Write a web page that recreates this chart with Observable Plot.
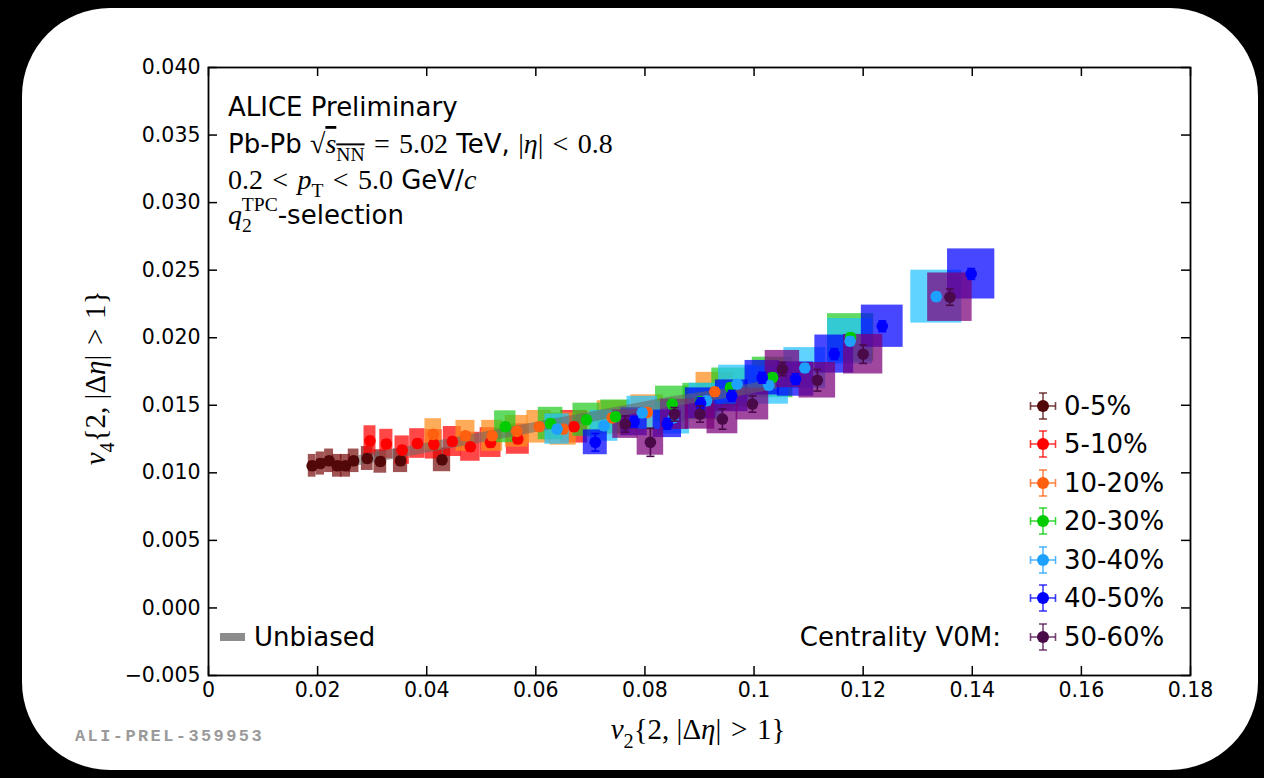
<!DOCTYPE html>
<html>
<head>
<meta charset="utf-8">
<script src="https://cdn.jsdelivr.net/npm/d3@7"></script>
<script src="https://cdn.jsdelivr.net/npm/@observablehq/plot@0.6"></script>
<style>
  html, body { margin: 0; padding: 0; background: #000; width: 1264px; height: 778px; overflow: hidden; }
  #card { position: absolute; left: 22px; top: 8px; width: 1236px; height: 762px; border-radius: 88px; background: #fff; }
  #chart { position: absolute; left: 0; top: 0; }
  text { white-space: pre; }
</style>
</head>
<body>
<div id="card"></div>
<div id="chart"></div>
<script>
// v4{2,|Δη|>1} versus v2{2,|Δη|>1} for q2-selected event classes, per centrality
const centralities = ["0-5%", "5-10%", "10-20%", "20-30%", "30-40%", "40-50%", "50-60%"];

const v2_0005 = [0.0190, 0.0205, 0.0221, 0.0236, 0.0251, 0.0266, 0.0291, 0.0315, 0.0352, 0.0428];
const v4_0005 = [0.01052, 0.01069, 0.01089, 0.01052, 0.01052, 0.01089, 0.01106, 0.01084, 0.01089, 0.01096];
const err_0005 = [0.0003, 0.0003, 0.0003, 0.0003, 0.0003, 0.0003, 0.0003, 0.0003, 0.0003, 0.0003];

const v2_0510 = [0.0296, 0.0326, 0.0355, 0.0383, 0.0413, 0.0447, 0.0480, 0.0517, 0.0567, 0.0670];
const v4_0510 = [0.01237, 0.01213, 0.01168, 0.01217, 0.01211, 0.01232, 0.01193, 0.01224, 0.01250, 0.01341];
const err_0510 = [0.0003, 0.0003, 0.0003, 0.0003, 0.0003, 0.0003, 0.0003, 0.0003, 0.0003, 0.0003];

const v2_1020 = [0.0412, 0.0471, 0.0520, 0.0565, 0.0606, 0.0650, 0.0740, 0.0804, 0.0928];
const v4_1020 = [0.01285, 0.01274, 0.01274, 0.01307, 0.01341, 0.01324, 0.01407, 0.01447, 0.01600];
const err_1020 = [0.0003, 0.0003, 0.0003, 0.0003, 0.0003, 0.0003, 0.0003, 0.0003, 0.0003];

const v2_2030 = [0.0544, 0.0627, 0.0693, 0.0746, 0.0850, 0.0902, 0.0957, 0.1034, 0.1177];
const v4_2030 = [0.01341, 0.01365, 0.01393, 0.01415, 0.01509, 0.01528, 0.01632, 0.01706, 0.02002];
const err_2030 = [0.0003, 0.0003, 0.0003, 0.0003, 0.0003, 0.0003, 0.0003, 0.0003, 0.0003];

const v2_3040 = [0.0639, 0.0725, 0.0795, 0.0852, 0.0913, 0.0969, 0.1027, 0.1093, 0.1176, 0.1334];
const v4_3040 = [0.01324, 0.01348, 0.01444, 0.01407, 0.01533, 0.01656, 0.01648, 0.01776, 0.01974, 0.02304];
const err_3040 = [0.0003, 0.0003, 0.0003, 0.0003, 0.0003, 0.0003, 0.0003, 0.0003, 0.0003, 0.0003];

const v2_4050 = [0.0709, 0.0780, 0.0841, 0.0902, 0.0959, 0.1015, 0.1076, 0.1147, 0.1235, 0.1398];
const v4_4050 = [0.01226, 0.01378, 0.01363, 0.01515, 0.01570, 0.01704, 0.01694, 0.01879, 0.02085, 0.02472];
const err_4050 = [0.00065, 0.0004, 0.0004, 0.0004, 0.0004, 0.0004, 0.0004, 0.0004, 0.0004, 0.0004];

const v2_5060 = [0.0764, 0.0810, 0.0854, 0.0901, 0.0942, 0.0997, 0.1052, 0.1116, 0.1200, 0.1359];
const v4_5060 = [0.01361, 0.01226, 0.01433, 0.01435, 0.01398, 0.01509, 0.01768, 0.01685, 0.01878, 0.02300];
const err_5060 = [0.0006, 0.00104, 0.0005, 0.0006, 0.00075, 0.0006, 0.0005, 0.0008, 0.00068, 0.0006];

// relative systematic uncertainties (boxes) per centrality class
const sysRelV2 = [0.037, 0.037, 0.037, 0.036, 0.035, 0.031, 0.030];
const sysRelV4 = [0.080, 0.090, 0.090, 0.088, 0.085, 0.075, 0.078];

// unbiased (no q2 selection) reference
const v2_unbiased = [0.027, 0.035, 0.047, 0.060, 0.072, 0.085, 0.095, 0.104];
const v4_unbiased = [0.0109, 0.0115, 0.0124, 0.0134, 0.0143, 0.0153, 0.0159, 0.0166];

// axis ticks
const xTicks = [0, 0.02, 0.04, 0.06, 0.08, 0.1, 0.12, 0.14, 0.16, 0.18];
const yTicks = [-0.005, 0, 0.005, 0.010, 0.015, 0.020, 0.025, 0.030, 0.035, 0.040];

const dotColors = ["#520808", "#ff0000", "#ff6010", "#00cc00", "#1ea0ff", "#0000ff", "#4a0a4a"];
const boxColors = ["#7a1010", "#ff0000", "#ff8c1a", "#22cc22", "#22c4ff", "#0000ff", "#7a007a"];

const v2s = [v2_0005, v2_0510, v2_1020, v2_2030, v2_3040, v2_4050, v2_5060];
const v4s = [v4_0005, v4_0510, v4_1020, v4_2030, v4_3040, v4_4050, v4_5060];
const errs = [err_0005, err_0510, err_1020, err_2030, err_3040, err_4050, err_5060];

const series = centralities.map((c, i) =>
  v2s[i].map((v2, j) => ({c, v2, v4: v4s[i][j], err: errs[i][j]}))
);
const unbiased = v2_unbiased.map((v2, j) => ({v2, v4: v4_unbiased[j]}));

// horizontal cap used for the statistical error bars
const capSymbol = {
  draw(ctx, size) {
    const w = Math.sqrt(size / Math.PI);
    ctx.moveTo(-w, 0);
    ctx.lineTo(w, 0);
  }
};

const W = 1264, H = 778;
const mL = 208, mR = 74, mT = 67, mB = 103;
const frameW = W - mL - mR, frameH = H - mT - mB;
const tickLen = 9;

const marks = [];
// systematic boxes
series.forEach((rows, i) => {
  marks.push(Plot.rect(rows, {
    x1: d => d.v2 * (1 - sysRelV2[i]), x2: d => d.v2 * (1 + sysRelV2[i]),
    y1: d => d.v4 * (1 - sysRelV4[i]), y2: d => d.v4 * (1 + sysRelV4[i]),
    fill: boxColors[i], fillOpacity: 0.72
  }));
});
// unbiased band
marks.push(Plot.line(unbiased, {x: "v2", y: "v4", stroke: "#666", strokeOpacity: 0.55, strokeWidth: 10, strokeLinecap: "butt"}));
// statistical errors and points
series.forEach((rows, i) => {
  marks.push(
    Plot.ruleX(rows, {x: "v2", y1: d => d.v4 - d.err, y2: d => d.v4 + d.err, stroke: dotColors[i], strokeWidth: 1.6}),
    Plot.dot(rows, {x: "v2", y: d => d.v4 + d.err, symbol: capSymbol, r: 4, stroke: dotColors[i], strokeWidth: 1.6, fill: "none"}),
    Plot.dot(rows, {x: "v2", y: d => d.v4 - d.err, symbol: capSymbol, r: 4, stroke: dotColors[i], strokeWidth: 1.6, fill: "none"}),
    Plot.dot(rows, {x: "v2", y: "v4", r: 5.8, fill: dotColors[i], stroke: "none"})
  );
});
// inward ticks on all four sides
marks.push(
  Plot.tickX(xTicks, {x: d => d, insetTop: frameH - tickLen, stroke: "black", strokeWidth: 1.5}),
  Plot.tickX(xTicks, {x: d => d, insetBottom: frameH - tickLen, stroke: "black", strokeWidth: 1.5}),
  Plot.tickY(yTicks, {y: d => d, insetRight: frameW - tickLen, stroke: "black", strokeWidth: 1.5}),
  Plot.tickY(yTicks, {y: d => d, insetLeft: frameW - tickLen, stroke: "black", strokeWidth: 1.5}),
  Plot.axisX({ticks: xTicks, tickSize: 0, tickPadding: 7, label: null, fontSize: 20.5,
    tickFormat: d => d === 0 ? "0" : String(+d.toFixed(2))}),
  Plot.axisY({ticks: yTicks, tickSize: 0, tickPadding: 8, label: null, fontSize: 20.5,
    tickFormat: d => (d < 0 ? "\u2212" : "") + Math.abs(d).toFixed(3)}),
  Plot.frame({stroke: "black", strokeWidth: 1.8})
);

const plot = Plot.plot({
  width: W, height: H,
  marginLeft: mL, marginRight: mR, marginTop: mT, marginBottom: mB,
  x: {domain: [0, 0.18]},
  y: {domain: [-0.005, 0.040]},
  style: {background: "none", fontFamily: "DejaVu Sans", color: "black", overflow: "visible"},
  marks
});
document.getElementById("chart").appendChild(plot);

const svg = d3.select(plot);
const SANS = "DejaVu Sans", SERIF = "Liberation Serif";
const RSP = "\u2004"; // spacing around relations in math text

// text with mixed fonts (sans for words, serif for math), sub- and superscripts
function rich(parent, x, y, parts, size, msize, attrs = {}) {
  const t = parent.append("text").attr("x", x).attr("y", y)
    .attr("fill", "black").attr("text-anchor", "start");
  for (const [k, v] of Object.entries(attrs)) t.attr(k, v);
  let cur = 0;
  for (const p of parts) {
    const base = p.f === "sans" ? size : msize;
    const target = p.sub ? base * 0.3 : p.sup ? -base * 0.45 : 0;
    const s = t.append("tspan").text(p.t)
      .attr("font-family", p.f === "sans" ? SANS : SERIF)
      .attr("font-style", p.f === "it" ? "italic" : "normal")
      .attr("font-size", (p.sub || p.sup) ? base * 0.7 : base);
    if (target !== cur) { s.attr("dy", target - cur); cur = target; }
    if (p.dx) s.attr("dx", p.dx);
    if (p.over) s.attr("text-decoration", "overline");
  }
  return t;
}

const fs = 26, ms = 28;
const g = svg.append("g").attr("text-anchor", "start");
rich(g, 228, 116, [{t: "ALICE Preliminary", f: "sans"}], fs, ms);
rich(g, 228, 153, [
  {t: "Pb-Pb ", f: "sans"}, {t: "\u221A", f: "rm"}, {t: "s", f: "it", over: true},
  {t: "NN", f: "rm", sub: true, over: true}, {t: RSP + "=" + RSP + "5.02", f: "rm"}, {t: " TeV, ", f: "sans"},
  {t: "|", f: "rm"}, {t: "\u03B7", f: "it"}, {t: "|" + RSP + "<" + RSP + "0.8", f: "rm"}
], fs, ms);
rich(g, 228, 189, [
  {t: "0.2" + RSP + "<" + RSP, f: "rm"}, {t: "p", f: "it"}, {t: "T", f: "rm", sub: true},
  {t: RSP + "<" + RSP + "5.0", f: "rm"}, {t: " GeV/", f: "sans"}, {t: "c", f: "it"}
], fs, ms);
rich(g, 228, 224, [
  {t: "q", f: "it"}, {t: "2", f: "rm", sub: true}, {t: "TPC", f: "rm", sup: true, dx: -10},
  {t: "-selection", f: "sans"}
], fs, ms);

// axis titles
rich(g, 698, 739, [
  {t: "v", f: "it"}, {t: "2", f: "rm", sub: true}, {t: "{2, |\u0394", f: "rm"},
  {t: "\u03B7", f: "it"}, {t: "|" + RSP + ">" + RSP + "1}", f: "rm"}
], 29, 29, {"text-anchor": "middle"});
rich(g, 0, 0, [
  {t: "v", f: "it"}, {t: "4", f: "rm", sub: true}, {t: "{2, |\u0394", f: "rm"},
  {t: "\u03B7", f: "it"}, {t: "|" + RSP + ">" + RSP + "1}", f: "rm"}
], 29, 29, {"text-anchor": "middle", transform: "translate(105,378) rotate(-90)"});

// legend
const legY = [406, 444, 483, 521, 560, 598, 637];
const lx = 1043;
centralities.forEach((c, i) => {
  const y = legY[i], col = dotColors[i];
  const lg = g.append("g").attr("stroke", col).attr("stroke-width", 1.6).attr("stroke-opacity", 0.75);
  lg.append("line").attr("x1", lx - 12.5).attr("x2", lx + 12.5).attr("y1", y).attr("y2", y);
  lg.append("line").attr("x1", lx).attr("x2", lx).attr("y1", y - 13).attr("y2", y + 13);
  lg.append("line").attr("x1", lx - 12.5).attr("x2", lx - 12.5).attr("y1", y - 4).attr("y2", y + 4);
  lg.append("line").attr("x1", lx + 12.5).attr("x2", lx + 12.5).attr("y1", y - 4).attr("y2", y + 4);
  lg.append("line").attr("x1", lx - 4).attr("x2", lx + 4).attr("y1", y - 13).attr("y2", y - 13);
  lg.append("line").attr("x1", lx - 4).attr("x2", lx + 4).attr("y1", y + 13).attr("y2", y + 13);
  g.append("circle").attr("cx", lx).attr("cy", y).attr("r", 6).attr("fill", col);
  g.append("text").attr("x", 1064).attr("y", y).attr("dy", "0.36em").attr("text-anchor", "start")
    .attr("font-family", SANS).attr("font-size", fs).attr("fill", "black").text(c);
});
g.append("text").attr("x", 1001).attr("y", 637).attr("dy", "0.36em").attr("text-anchor", "end")
  .attr("font-family", SANS).attr("font-size", fs).attr("fill", "black").text("Centrality V0M:");

g.append("rect").attr("x", 220).attr("y", 633).attr("width", 25).attr("height", 8).attr("fill", "#8c8c8c");
g.append("text").attr("x", 254).attr("y", 637).attr("dy", "0.36em").attr("text-anchor", "start")
  .attr("font-family", SANS).attr("font-size", fs).attr("fill", "black").text("Unbiased");

g.append("text").attr("x", 75).attr("y", 741).attr("text-anchor", "start")
  .attr("font-family", "Liberation Mono").attr("font-weight", "bold").attr("font-size", 17)
  .attr("letter-spacing", 2.4).attr("fill", "#9a9a9a").text("ALI-PREL-359953");
</script>
</body>
</html>
